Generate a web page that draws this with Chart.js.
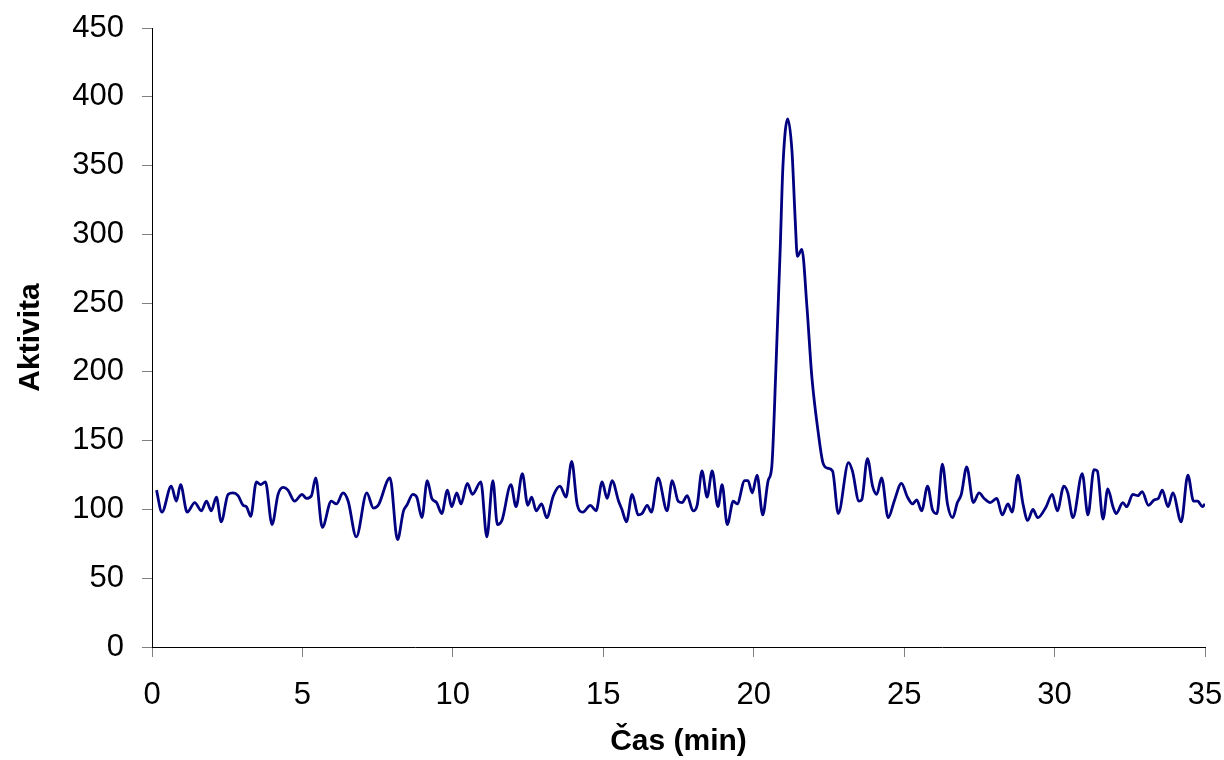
<!DOCTYPE html>
<html lang="cs">
<head>
<meta charset="utf-8">
<title>Aktivita</title>
<script src="https://cdn.jsdelivr.net/npm/chart.js@4.4.1/dist/chart.umd.min.js"></script>
<style>
  html, body { margin: 0; padding: 0; background: #ffffff; }
  #wrap { width: 1224px; height: 760px; }
</style>
</head>
<body>
<div id="wrap"><canvas id="chart" width="1224" height="760"></canvas></div>
<script>
// time (min) and activity (peaks, valleys, shoulders)
const TIME_MIN = [
  0.15, 0.33, 0.64, 0.81, 0.95, 1.17, 1.42, 1.64, 1.81, 1.97,
  2.14, 2.30, 2.53, 2.69, 2.86, 3.03, 3.14, 3.28, 3.47, 3.61,
  3.77, 3.99, 4.19, 4.36, 4.52, 4.74, 4.99, 5.13, 5.30, 5.44,
  5.66, 5.96, 6.13, 6.35, 6.52, 6.79, 7.14, 7.36, 7.52, 7.91,
  8.16, 8.36, 8.47, 8.67, 8.80, 8.97, 9.15, 9.30, 9.46, 9.63,
  9.82, 9.96, 10.13, 10.27, 10.48, 10.65, 10.93, 11.13, 11.33, 11.48,
  11.63, 11.93, 12.10, 12.31, 12.49, 12.62, 12.77, 12.95, 13.12, 13.34,
  13.56, 13.76, 13.95, 14.13, 14.32, 14.57, 14.76, 14.96, 15.13, 15.29,
  15.51, 15.62, 15.77, 15.96, 16.16, 16.29, 16.46, 16.60, 16.82, 17.12,
  17.29, 17.49, 17.62, 17.79, 17.98, 18.12, 18.28, 18.45, 18.62, 18.81,
  18.95, 19.12, 19.32, 19.45, 19.70, 19.81, 19.95, 20.11, 20.30, 20.48,
  20.60, 20.74, 20.88, 20.97, 21.13, 21.27, 21.38, 21.45, 21.60, 21.77,
  21.93, 22.15, 22.30, 22.45, 22.62, 22.81, 23.15, 23.28, 23.50, 23.59,
  23.78, 23.95, 24.09, 24.25, 24.47, 24.67, 24.91, 25.11, 25.28, 25.42,
  25.58, 25.78, 25.94, 26.09, 26.27, 26.44, 26.61, 26.77, 26.90, 27.08,
  27.30, 27.49, 27.66, 27.86, 28.08, 28.26, 28.45, 28.59, 28.78, 28.95,
  29.11, 29.28, 29.44, 29.72, 29.92, 30.09, 30.31, 30.44, 30.61, 30.92,
  31.11, 31.31, 31.42, 31.61, 31.77, 31.94, 32.05, 32.27, 32.40, 32.60,
  32.77, 32.91, 33.12, 33.32, 33.45, 33.58, 33.77, 33.93, 34.21, 34.43,
  34.62, 34.76, 34.91, 35.00,
];

const ACTIVITY = [
  114, 98, 117, 106, 118, 98, 105, 99, 106, 99,
  109, 91, 111, 112, 110, 103, 102, 95, 120, 118,
  120, 89, 111, 116, 114, 106, 111, 108, 110, 123,
  87, 106, 104, 112, 106, 80, 112, 101, 103, 123,
  78, 99, 103, 111, 109, 94, 121, 108, 105, 97,
  114, 102, 112, 104, 119, 111, 120, 80, 121, 89,
  92, 118, 102, 126, 103, 109, 99, 104, 94, 110,
  117, 109, 135, 104, 98, 103, 99, 120, 108, 121,
  106, 100, 91, 111, 96, 97, 103, 98, 123, 99,
  121, 106, 105, 110, 99, 103, 128, 109, 128, 102,
  118, 89, 106, 104, 121, 121, 112, 125, 96, 121,
  131, 204, 289, 349, 384, 361, 310, 284, 289, 247,
  197, 155, 134, 130, 128, 97, 134, 128, 106, 107,
  137, 117, 111, 123, 94, 106, 119, 109, 104, 107,
  99, 117, 100, 97, 133, 104, 94, 105, 111, 131,
  105, 112, 108, 105, 108, 96, 104, 98, 125, 104,
  92, 100, 94, 102, 111, 99, 117, 112, 94, 126,
  96, 129, 128, 93, 115, 102, 97, 105, 102, 111,
  110, 113, 103, 107, 108, 114, 102, 112, 91, 125,
  106, 106, 102, 104,
];

const X_TICKS = [0, 5, 10, 15, 20, 25, 30, 35];
const Y_TICKS = [0, 50, 100, 150, 200, 250, 300, 350, 400, 450];

const FONT_FAMILY = "'Liberation Sans', Arial, sans-serif";
const LINE_COLOR = "#000080";

const points = TIME_MIN.map((t, i) => ({ x: t, y: ACTIVITY[i] }));

const setTicks = (values) => (scale) => {
  scale.ticks = values.map((value) => ({ value }));
};

const ctx = document.getElementById("chart").getContext("2d");

new Chart(ctx, {
  type: "line",
  data: {
    datasets: [
      {
        label: "Aktivita",
        data: points,
        borderColor: LINE_COLOR,
        borderWidth: 2.8,
        pointRadius: 0,
        fill: false,
        cubicInterpolationMode: "monotone",
      },
    ],
  },
  options: {
    responsive: false,
    animation: false,
    devicePixelRatio: 1,
    layout: {
      padding: { top: 28, right: 19, bottom: 0, left: 0 },
    },
    plugins: {
      legend: { display: false },
      tooltip: { enabled: false },
    },
    scales: {
      x: {
        type: "linear",
        min: X_TICKS[0],
        max: X_TICKS[X_TICKS.length - 1],
        afterBuildTicks: setTicks(X_TICKS),
        afterFit: (scale) => {
          scale.height = 113;
          scale.paddingLeft = 0;
          scale.paddingRight = 0;
        },
        border: { display: true, color: "#000000", width: 1 },
        grid: {
          drawOnChartArea: false,
          drawTicks: true,
          tickLength: 10,
          color: "#808080",
        },
        ticks: {
          color: "#000000",
          padding: 20,
          maxRotation: 0,
          font: { family: FONT_FAMILY, size: 31 },
        },
        title: {
          display: true,
          text: "Čas (min)",
          color: "#000000",
          padding: { top: 0, bottom: 0 },
          font: { family: FONT_FAMILY, size: 30, weight: "bold" },
        },
      },
      y: {
        type: "linear",
        min: Y_TICKS[0],
        max: Y_TICKS[Y_TICKS.length - 1],
        afterBuildTicks: setTicks(Y_TICKS),
        afterFit: (scale) => {
          scale.width = 152;
          scale.paddingTop = 0;
          scale.paddingBottom = 0;
        },
        border: { display: true, color: "#000000", width: 1 },
        grid: {
          drawOnChartArea: false,
          drawTicks: true,
          tickLength: 10,
          color: "#808080",
        },
        ticks: {
          color: "#000000",
          padding: 18,
          font: { family: FONT_FAMILY, size: 31 },
        },
        title: {
          display: true,
          text: "Aktivita",
          color: "#000000",
          padding: { top: 13, bottom: 0 },
          font: { family: FONT_FAMILY, size: 30, weight: "bold" },
        },
      },
    },
  },
});
</script>
</body>
</html>
